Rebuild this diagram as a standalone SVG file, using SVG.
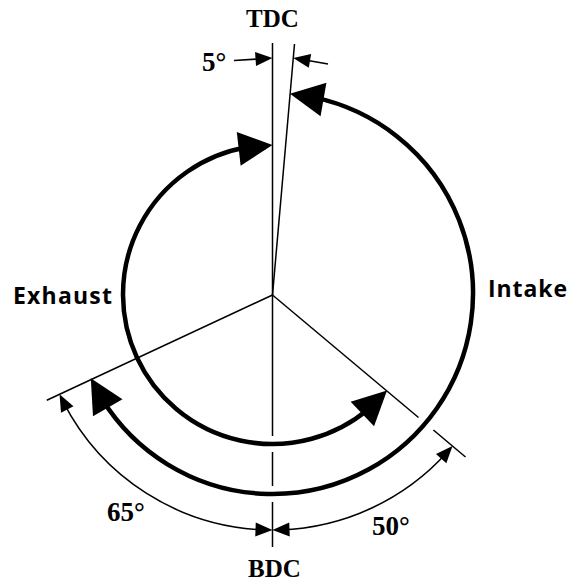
<svg xmlns="http://www.w3.org/2000/svg" width="572" height="584" viewBox="0 0 572 584">
<style>
.thin{fill:none;stroke:#000;stroke-width:1.5}
.thick{fill:none;stroke:#000;stroke-width:4.5}
.head{fill:#000;stroke:none}
.serif{font-family:"Liberation Serif","Times New Roman",serif;font-weight:bold;font-size:25px;fill:#000}
.num{font-family:"Liberation Serif","Times New Roman",serif;font-weight:bold;font-size:27px;fill:#000}
.sans{font-family:"Open Sans","Noto Sans",sans-serif;font-weight:bold;font-size:23px;fill:#000}
</style>
<rect width="572" height="584" fill="#fff"/>
<g id="connectors">
  <g id="reference-lines">
    <line class="thin" x1="272.5" y1="43" x2="272.5" y2="436"/>
    <line class="thin" x1="272.5" y1="452" x2="272.5" y2="486"/>
    <line class="thin" x1="272.5" y1="502" x2="272.5" y2="547"/>
    <line class="thin" x1="272.5" y1="295" x2="294.5" y2="44"/>
    <line class="thin" x1="272.5" y1="295" x2="46.8" y2="400.3"/>
    <line class="thin" x1="272.5" y1="295" x2="418.5" y2="417.5"/>
    <line class="thin" x1="433.4" y1="430" x2="465.5" y2="457"/>
  </g>
  <g id="exhaust-arc">
    <path class="thick" d="M368.60,409.02 A149.5,149.5 0 1 1 246.54,147.27"/>
    <polygon class="head" points="272.5,145 240.64,165.76 236.78,131.98"/>
    <polygon class="head" points="387.02,390.60 374.05,426.34 350.65,401.66"/>
  </g>
  <g id="intake-arc">
    <path class="thick" d="M314.18,97.38 A200.5,200.5 0 1 1 102.47,399.75"/>
    <polygon class="head" points="289.98,93.76 326.41,82.84 320.57,116.36"/>
    <polygon class="head" points="90.79,378.23 122.48,399.27 92.98,416.21"/>
  </g>
  <g id="dim-65">
    <path class="thin" d="M264.30,529.86 A235,235 0 0 1 63.11,401.69"/>
    <polygon class="head" points="59.52,394.31 73.48,406.27 61.02,412.63"/>
    <polygon class="head" points="272.5,530 255.25,536.38 255.77,522.38"/>
  </g>
  <g id="dim-50">
    <path class="thin" d="M447.14,452.24 A235,235 0 0 1 280.70,529.86"/>
    <polygon class="head" points="452.52,446.06 446.34,463.31 435.98,453.95"/>
    <polygon class="head" points="272.5,530 289.75,536.38 289.23,522.38"/>
  </g>
  <g id="dim-5">
    <line class="thin" x1="234" y1="60.5" x2="258" y2="59"/>
    <polygon class="head" points="272.5,58 255.99,66.09 255.07,52.11"/>
    <line class="thin" x1="328" y1="64" x2="308" y2="60.5"/>
    <polygon class="head" points="293.2,58 311.15,53.99 308.77,67.79"/>
  </g>
</g>
<g id="tdc"><text class="serif" x="272.5" y="27" text-anchor="middle">TDC</text></g>
<g id="bdc"><text class="serif" x="274.5" y="577" text-anchor="middle">BDC</text></g>
<g id="label-5"><text class="num" x="202" y="71">5°</text></g>
<g id="label-65"><text class="num" x="107" y="521">65°</text></g>
<g id="label-50"><text class="num" x="372" y="535">50°</text></g>
<g id="exhaust"><text class="sans" x="13" y="304" textLength="99">Exhaust</text></g>
<g id="intake"><text class="sans" x="488" y="297" textLength="79">Intake</text></g>
</svg>
